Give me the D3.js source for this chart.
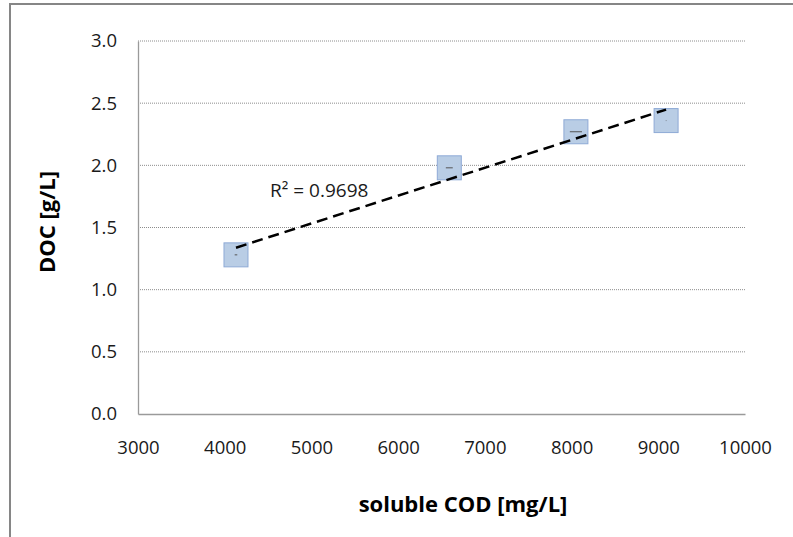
<!DOCTYPE html>
<html>
<head>
<meta charset="utf-8">
<script src="https://cdn.jsdelivr.net/npm/d3@7"></script>
<style>
  body { margin: 0; background: #fff; }
  svg { display: block; font-family: "Open Sans", "Noto Sans", sans-serif; }
</style>
</head>
<body>
<svg id="chart" width="793" height="537"></svg>
<script>
// values
const codValues = [4130, 6590, 8050, 9090];   // soluble COD [mg/L]
const docValues = [1.28, 1.98, 2.27, 2.36];   // DOC [g/L]
const codErr = [15, 40, 70, 3];               // small horizontal error bars
const xTicks = [3000, 4000, 5000, 6000, 7000, 8000, 9000, 10000];
const yTicks = [0, 0.5, 1.0, 1.5, 2.0, 2.5, 3.0];
const r2Label = 'R² = 0.9698';

const margin = {left: 138, top: 41, right: 48, bottom: 123};
const svg = d3.select('#chart');
const W = +svg.attr('width'), H = +svg.attr('height');

// outer chart frame
svg.append('rect')
    .attr('x', 10).attr('y', 4)
    .attr('width', W).attr('height', H)
    .attr('fill', 'none')
    .attr('stroke', '#868686')
    .attr('stroke-width', 2);

const x = d3.scaleLinear().domain([3000, 10000]).range([margin.left, W - margin.right]);
const y = d3.scaleLinear().domain([0, 3]).range([H - margin.bottom, margin.top]);

// gridlines
svg.append('g')
    .selectAll('line')
    .data(yTicks.filter(d => d > 0))
    .enter()
    .append('line')
        .attr('x1', x(3000)).attr('x2', x(10000))
        .attr('y1', d => y(d)).attr('y2', d => y(d))
        .attr('stroke', '#8c8c8c')
        .attr('stroke-width', 1)
        .attr('stroke-dasharray', '1,1');

// axes
const xAxis = svg.append('g')
    .attr('transform', `translate(0,${y(0)})`)
    .call(d3.axisBottom(x).tickValues(xTicks).tickSize(0).tickPadding(27).tickFormat(d3.format('d')));
const yAxis = svg.append('g')
    .attr('transform', `translate(${x(3000)},0)`)
    .call(d3.axisLeft(y).tickValues(yTicks).tickSize(0).tickPadding(21).tickFormat(d3.format('.1f')));

[xAxis, yAxis].forEach(a => {
    a.attr('font-family', null).attr('font-size', null);
    a.select('.domain').attr('stroke', '#9a9a9a').attr('stroke-width', 1.3);
    a.selectAll('text').style('font-size', '18.5px').attr('fill', '#1a1a1a');
});
xAxis.selectAll('text').attr('dy', '0.71em');

// linear trendline
const mx = d3.mean(codValues), my = d3.mean(docValues);
const sxy = d3.sum(codValues, (v, i) => (v - mx) * (docValues[i] - my));
const sxx = d3.sum(codValues, v => (v - mx) ** 2);
const slope = sxy / sxx, icpt = my - slope * mx;
const xExt = d3.extent(codValues);

// markers
const pts = codValues.map((v, i) => ({x: v, y: docValues[i], e: codErr[i]}));
const size = 24;
svg.append('g')
    .selectAll('rect')
    .data(pts)
    .enter()
    .append('rect')
        .attr('x', d => x(d.x) - size / 2)
        .attr('y', d => y(d.y) - size / 2)
        .attr('width', size).attr('height', size)
        .attr('fill', '#b9cde5')
        .attr('stroke', '#8eaad6')
        .attr('stroke-width', 1);

svg.append('g')
    .selectAll('line')
    .data(pts)
    .enter()
    .append('line')
        .attr('x1', d => x(d.x - d.e)).attr('x2', d => x(d.x + d.e))
        .attr('y1', d => y(d.y)).attr('y2', d => y(d.y))
        .attr('stroke', '#555')
        .attr('stroke-width', 1);

svg.append('line')
    .attr('x1', x(xExt[0])).attr('y1', y(icpt + slope * xExt[0]))
    .attr('x2', x(xExt[1])).attr('y2', y(icpt + slope * xExt[1]))
    .attr('stroke', '#000')
    .attr('stroke-width', 2.5)
    .attr('stroke-dasharray', '11,6');

svg.append('text')
    .attr('x', 270).attr('y', 197)
    .style('font-size', '19px')
    .attr('fill', '#1a1a1a')
    .text(r2Label);

// axis titles
svg.append('text')
    .attr('x', 463).attr('y', 512)
    .attr('text-anchor', 'middle')
    .style('font-size', '22px').style('font-weight', 'bold')
    .text('soluble COD [mg/L]');

svg.append('text')
    .attr('transform', 'translate(55,222) rotate(-90)')
    .attr('text-anchor', 'middle')
    .style('font-size', '22px').style('font-weight', 'bold')
    .text('DOC [g/L]');
</script>
</body>
</html>
